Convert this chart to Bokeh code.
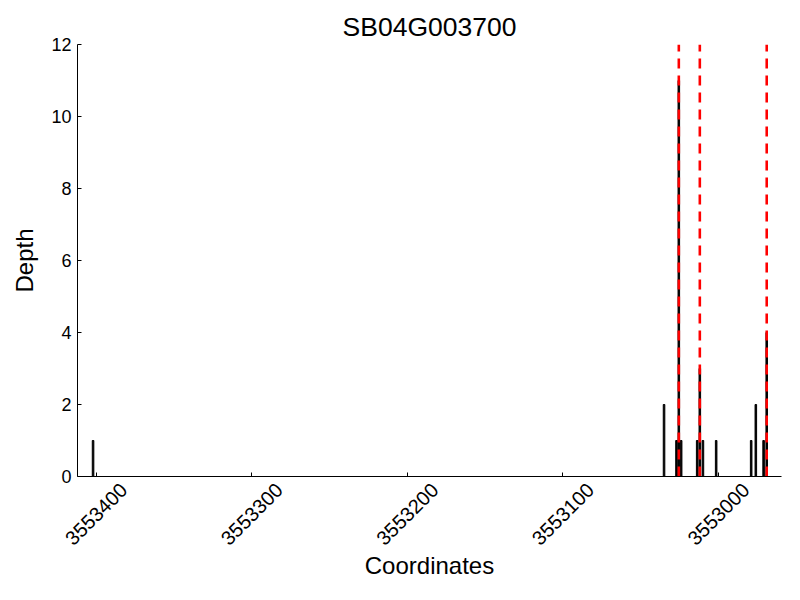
import math
from bokeh.plotting import figure
from bokeh.models import Range1d, FixedTicker, LinearAxis, CustomJSTickFormatter
from bokeh.embed import file_html
from bokeh.resources import INLINE

coords = [3553402, 3553035, 3553027, 3553025.5, 3553024, 3553013.7, 3553012,
          3553010, 3553001.5, 3552979, 3552976, 3552971, 3552969]
depths = [1, 2, 1, 11, 1, 1, 3, 1, 1, 1, 2, 1, 4]
marker_coords = [3553025.5, 3553012, 3552969]
x_ticks = [3553000, 3553100, 3553200, 3553300, 3553400]
x_tick_labels = ["3553000", "3553100", "3553200", "3553300", "3553400"]
y_ticks = [0, 2, 4, 6, 8, 10, 12]

FONT = "Liberation Sans"
X_LO, X_HI = 3553412, 3552959.5
XLAB_PX = 20

W, H = 792, 592
B_LEFT, B_RIGHT, B_TOP, B_BOTTOM = 77, 11, 44, 116

p = figure(width=W, height=H, output_backend="svg", toolbar_location=None,
           x_range=Range1d(X_LO, X_HI), y_range=Range1d(0, 12),
           title="SB04G003700", min_border_left=B_LEFT, min_border_right=B_RIGHT,
           min_border_top=B_TOP, min_border_bottom=B_BOTTOM)
p.outline_line_color = None
p.grid.visible = False
p.background_fill_color = "white"

p.title.align = "center"
p.title.text_font = FONT
p.title.text_font_size = "26.5px"
p.title.text_font_style = "normal"
p.title.text_color = "black"
p.title.offset = 0
p.title.standoff = 5

p.vbar(x=coords, top=depths, width=1.0, bottom=0, fill_color="black", line_color="black", line_width=1)
for c in marker_coords:
    p.segment(x0=[c], y0=[0], x1=[c], y1=[12], line_color="#ff0000", line_width=2.6, line_dash="10 7")

def style(ax):
    ax.major_tick_in = 4
    ax.major_tick_out = 0
    ax.minor_tick_in = 0
    ax.minor_tick_out = 0
    ax.axis_line_color = "black"
    ax.major_tick_line_color = "black"
    ax.major_label_text_font = FONT
    ax.major_label_text_font_size = "18px"
    ax.major_label_text_color = "black"
    ax.axis_label_text_font = FONT
    ax.axis_label_text_font_size = "24px"
    ax.axis_label_text_font_style = "normal"
    ax.axis_label_text_color = "black"

style(p.xaxis[0])
style(p.yaxis[0])

# main x axis: line + inward ticks, no labels
xa = p.xaxis[0]
xa.ticker = FixedTicker(ticks=x_ticks)
xa.formatter = CustomJSTickFormatter(code="return ''")
xa.major_label_standoff = 0

p.yaxis.ticker = FixedTicker(ticks=y_ticks)
p.yaxis.axis_label = "Depth"
p.yaxis.major_label_standoff = 6
p.yaxis.axis_label_standoff = 10

# label-only axis: rotated labels centred under the ticks
frame_w = W - B_LEFT - B_RIGHT
px_per_unit = frame_w / abs(X_LO - X_HI)
label_len_px = 7 * 0.556 * XLAB_PX
shift_units = (label_len_px / 2) * math.cos(math.pi / 4) / px_per_unit
shifted = [t - shift_units for t in x_ticks]
la = LinearAxis(ticker=FixedTicker(ticks=shifted))
style(la)
la.axis_line_color = None
la.major_tick_line_color = None
la.major_tick_in = 0
la.major_label_text_font_size = f"{XLAB_PX}px"
la.major_label_orientation = math.pi / 4
la.major_label_overrides = {s: lab for s, lab in zip(shifted, x_tick_labels)}
la.major_label_standoff = 10
la.axis_label = "Coordinates"
la.axis_label_standoff = -2
p.add_layout(la, "below")

open("out.html", "w").write(file_html(p, INLINE))
